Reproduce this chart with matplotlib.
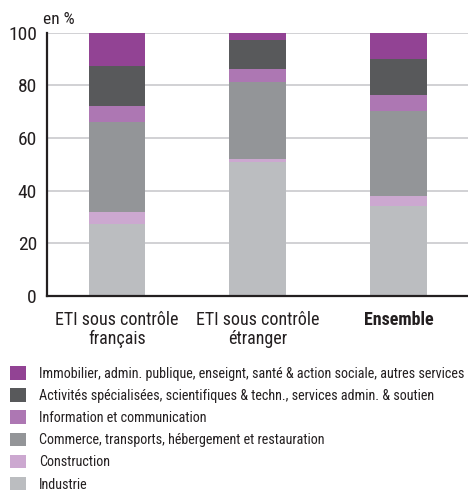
import matplotlib
matplotlib.use("Agg")
import matplotlib.pyplot as plt
import numpy as np

plt.rcParams["font.family"] = ["Roboto Condensed", "Archivo Narrow", "Liberation Sans", "DejaVu Sans"]

# Shares in %, bottom to top
groups = ["ETI sous contrôle\nfrançais", "ETI sous contrôle\nétranger", "Ensemble"]
sectors = [
    "Industrie",
    "Construction",
    "Commerce, transports, hébergement et restauration",
    "Information et communication",
    "Activités spécialisées, scientifiques & techn., services admin. & soutien",
    "Immobilier, admin. publique, enseignt, santé & action sociale, autres services",
]
industrie = [27.4, 51.1, 34.2]
construction = [4.5, 1.0, 3.8]
commerce = [34.3, 29.4, 32.3]
information = [6.0, 4.8, 6.1]
activites = [15.3, 11.0, 13.7]
immobilier = [12.5, 2.7, 9.9]
values = [industrie, construction, commerce, information, activites, immobilier]
colors = ["#bbbdc0", "#cca8d0", "#939598", "#ad77b3", "#58595b", "#924394"]
yticks = [0, 20, 40, 60, 80, 100]

INK = "#231f20"

fig = plt.figure(figsize=(4.68, 4.90), dpi=100)
ax = fig.add_axes([0.0998, 0.396, 0.902, 0.537])

x = np.arange(len(groups))
bottom = np.zeros(len(groups))
handles = []
for vals, col, lab in zip(values, colors, sectors):
    b = ax.bar(x, vals, width=0.404, bottom=bottom, color=col, label=lab,
               zorder=3, linewidth=0)
    handles.append(b)
    bottom += np.array(vals)

ax.set_xlim(-0.5, 2.5)
ax.set_ylim(0, 100)
ax.set_yticks(yticks)
ax.set_yticklabels([str(t) for t in yticks], fontsize=14, color=INK)
ax.set_xticks(x)
ax.set_xticklabels(groups, fontsize=13, color=INK, linespacing=1.05)
ax.get_xticklabels()[2].set_fontweight("bold")
ax.tick_params(axis="y", length=0, pad=7)
ax.tick_params(axis="x", length=0, pad=11)

ax.grid(axis="y", color="#c9cacd", lw=1.2, zorder=0)
for s in ("top", "right"):
    ax.spines[s].set_visible(False)
for s in ("left", "bottom"):
    ax.spines[s].set_color(INK)
    ax.spines[s].set_linewidth(1.6)
    ax.spines[s].set_zorder(4)

fig.text(0.092, 0.960, "en %", fontsize=12.5, color=INK, ha="left", va="center")

fig.legend(handles[::-1], sectors[::-1], loc="upper left",
           bbox_to_anchor=(0.021, 0.253), frameon=False, fontsize=10.2,
           handlelength=1.13, handleheight=1.1, handletextpad=0.92,
           labelspacing=0.535, borderaxespad=0, borderpad=0.0,
           labelcolor=INK)

fig.savefig("out.png", dpi=100, facecolor="white")
